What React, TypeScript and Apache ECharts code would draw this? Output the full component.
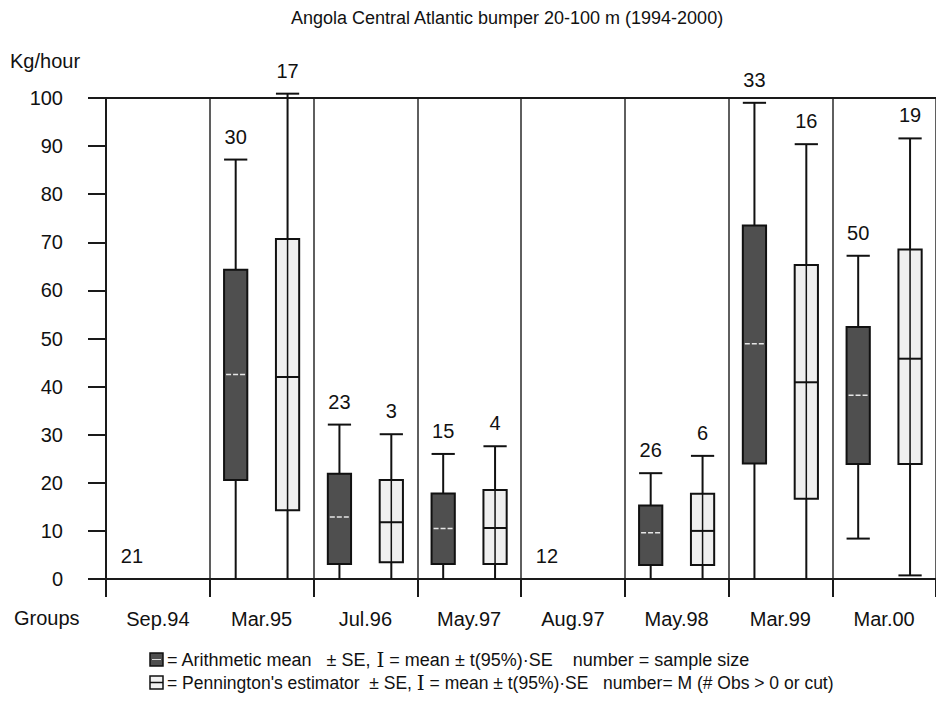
import React, { useEffect, useRef } from "react";
import * as echarts from "echarts";

const groups = ["Sep.94", "Mar.95", "Jul.96", "May.97", "Aug.97", "May.98", "Mar.99", "Mar.00"];
const yTicks = [0, 10, 20, 30, 40, 50, 60, 70, 80, 90, 100];

// Arithmetic mean ± SE (dark boxes)
const armN = [21, 30, 23, 15, 12, 26, 33, 50];
const armMean = [null, 42.5, 12.9, 10.5, null, 9.6, 48.9, 38.2];
const armBoxLow = [null, 20.6, 3.1, 3.1, null, 2.9, 24.0, 23.9];
const armBoxHigh = [null, 64.3, 21.9, 17.8, null, 15.3, 73.5, 52.4];
const armWhiskerLow = [null, 0, 0, 0, null, 0, 0, 8.4];
const armWhiskerHigh = [null, 87.2, 32.1, 26.0, null, 22.0, 99.0, 67.2];

// Pennington's estimator ± SE (light boxes)
const penN = [null, 17, 3, 4, null, 6, 16, 19];
const penMean = [null, 42.0, 11.8, 10.6, null, 10.0, 40.9, 45.8];
const penBoxLow = [null, 14.3, 3.5, 3.1, null, 2.9, 16.7, 23.9];
const penBoxHigh = [null, 70.7, 20.6, 18.5, null, 17.7, 65.3, 68.5];
const penWhiskerLow = [null, 0, 0, 0, null, 0, 0, 0.75];
const penWhiskerHigh = [null, 100.9, 30.1, 27.6, null, 25.6, 90.4, 91.6];

const FONT = "'Liberation Sans', Arial, sans-serif";

function buildData(n: any[], wl: any[], bl: any[], m: any[], bh: any[], wh: any[]) {
  return groups.map((_, i) => [i, wl[i], bl[i], m[i], bh[i], wh[i], n[i]]);
}

function makeRender(dark: boolean) {
  return (params: any, api: any) => {
    const idx = api.value(0);
    const band = api.size([1, 0])[0];
    const off = (dark ? -0.25 : 0.25) * band;
    const half = 0.112 * band;
    const n = api.value(6);
    const mean = api.value(3);
    const cx = api.coord([idx, 0])[0] + off;
    const children: any[] = [];
    const hasBox = mean !== null && mean !== undefined && !isNaN(mean);
    let topY: number;
    if (hasBox) {
      const wl = api.value(1), bl = api.value(2), bh = api.value(4), wh = api.value(5);
      const yWL = api.coord([idx, wl])[1];
      const yBL = api.coord([idx, bl])[1];
      const yM = api.coord([idx, mean])[1];
      const yBH = api.coord([idx, bh])[1];
      const yWH = api.coord([idx, wh])[1];
      topY = yWH;
      const lineStyle = { stroke: "#111", lineWidth: 2 };
      children.push({ type: "line", shape: { x1: cx, y1: yWL, x2: cx, y2: yWH }, style: lineStyle });
      children.push({ type: "line", shape: { x1: cx - half, y1: yWH, x2: cx + half, y2: yWH }, style: lineStyle });
      if (wl > 0) {
        children.push({ type: "line", shape: { x1: cx - half, y1: yWL, x2: cx + half, y2: yWL }, style: lineStyle });
      }
      children.push({
        type: "rect",
        shape: { x: cx - half, y: yBH, width: half * 2, height: yBL - yBH },
        style: { fill: dark ? "#4f4f4f" : "#efefef", stroke: "#111", lineWidth: 2 },
      });
      if (!dark) {
        children.push({ type: "line", shape: { x1: cx, y1: yBH, x2: cx, y2: yBL }, style: { stroke: "#111", lineWidth: 1.5 } });
        children.push({ type: "line", shape: { x1: cx - half, y1: yM, x2: cx + half, y2: yM }, style: lineStyle });
      } else {
        children.push({
          type: "line",
          shape: { x1: cx - half + 2, y1: yM, x2: cx + half - 2, y2: yM },
          style: { stroke: "#e6e6e6", lineWidth: 1.5, lineDash: [5, 2] },
        });
      }
    } else {
      topY = api.coord([idx, 0])[1];
    }
    if (n !== null && n !== undefined && !isNaN(n)) {
      children.push({
        type: "text",
        style: {
          text: String(n),
          x: cx,
          y: topY - 23,
          align: "center",
          verticalAlign: "middle",
          fontSize: 20,
          fontFamily: FONT,
          fill: "#111",
        },
      });
    }
    return { type: "group", children };
  };
}

export default function App() {
  const ref = useRef<HTMLDivElement>(null);
  useEffect(() => {
    if (!ref.current) return;
    const chart = echarts.init(ref.current, undefined, { renderer: "svg" });
    const axisColor = "#1a1a1a";
    const option: any = {
      animation: false,
      backgroundColor: "#ffffff",
      textStyle: { fontFamily: FONT },
      title: {
        text: "Angola Central Atlantic bumper 20-100 m (1994-2000)",
        left: 502,
        top: 4,
        textAlign: "center",
        textStyle: { fontSize: 18, fontWeight: "normal", color: "#111", fontFamily: FONT },
      },
      grid: { left: 106, top: 98, width: 842, height: 481, containLabel: false },
      xAxis: [
        {
          type: "category",
          data: groups,
          boundaryGap: true,
          axisLine: { show: true, lineStyle: { color: axisColor, width: 2 } },
          axisTick: { show: true, length: 18, lineStyle: { color: axisColor, width: 2 } },
          axisLabel: { margin: 30, fontSize: 20, color: "#111", fontFamily: FONT, interval: 0 },
          splitLine: { show: true, lineStyle: { color: "#2a2a2a", width: 1.5 } },
        },
        {
          type: "category",
          data: groups,
          position: "top",
          axisLine: { show: true, lineStyle: { color: axisColor, width: 2 } },
          axisTick: { show: false },
          axisLabel: { show: false },
          splitLine: { show: false },
        },
      ],
      yAxis: {
        type: "value",
        min: yTicks[0],
        max: yTicks[yTicks.length - 1],
        interval: 10,
        axisLine: { show: true, lineStyle: { color: axisColor, width: 2 } },
        axisTick: { show: true, length: 18, lineStyle: { color: axisColor, width: 2 } },
        axisLabel: { margin: 43, fontSize: 20, color: "#111", fontFamily: FONT },
        splitLine: { show: false },
      },
      series: [
        {
          type: "custom",
          name: "Arithmetic mean",
          renderItem: makeRender(true),
          encode: { x: 0, y: [1, 2, 3, 4, 5] },
          data: buildData(armN, armWhiskerLow, armBoxLow, armMean, armBoxHigh, armWhiskerHigh),
          clip: false,
          z: 5,
        },
        {
          type: "custom",
          name: "Pennington's estimator",
          renderItem: makeRender(false),
          encode: { x: 0, y: [1, 2, 3, 4, 5] },
          data: buildData(penN, penWhiskerLow, penBoxLow, penMean, penBoxHigh, penWhiskerHigh),
          clip: false,
          z: 5,
        },
      ],
      graphic: [
        { type: "text", left: 10, top: 51, style: { text: "Kg/hour", fontSize: 20, fontFamily: FONT, fill: "#111" } },
        { type: "text", left: 14, top: 608, style: { text: "Groups", fontSize: 20, fontFamily: FONT, fill: "#111" } },
        {
          type: "rect",
          shape: { x: 150, y: 653, width: 13, height: 13 },
          style: { fill: "#4f4f4f", stroke: "#111", lineWidth: 1.5 },
        },
        {
          type: "line",
          shape: { x1: 152, y1: 659.5, x2: 161, y2: 659.5 },
          style: { stroke: "#ddd", lineWidth: 1 },
        },
        {
          type: "rect",
          shape: { x: 150, y: 676, width: 13, height: 13 },
          style: { fill: "#f2f2f2", stroke: "#111", lineWidth: 1.5 },
        },
        {
          type: "line",
          shape: { x1: 150, y1: 682.5, x2: 163, y2: 682.5 },
          style: { stroke: "#111", lineWidth: 1.5 },
        },
        {
          type: "text",
          x: 167,
          y: 660,
          style: {
            text: "{a|= Arithmetic mean   ± SE, }{s|I}{a| = mean ± t(95%)·SE    number = sample size}",
            verticalAlign: "middle",
            rich: {
              a: { fontSize: 18, fontFamily: FONT, fill: "#111" },
              s: { fontSize: 20, fontFamily: "'DejaVu Serif', serif", fill: "#111" },
            },
          },
        },
        {
          type: "text",
          x: 167,
          y: 683,
          style: {
            text: "{a|= Pennington's estimator  ± SE, }{s|I}{a| = mean ± t(95%)·SE   number= M (# Obs > 0 or cut)}",
            verticalAlign: "middle",
            rich: {
              a: { fontSize: 17.5, fontFamily: FONT, fill: "#111" },
              s: { fontSize: 20, fontFamily: "'DejaVu Serif', serif", fill: "#111" },
            },
          },
        },
      ],
    };
    chart.setOption(option);
    return () => chart.dispose();
  }, []);
  return <div ref={ref} style={{ position: "absolute", left: 0, top: 0, width: 936, height: 723 }} />;
}
